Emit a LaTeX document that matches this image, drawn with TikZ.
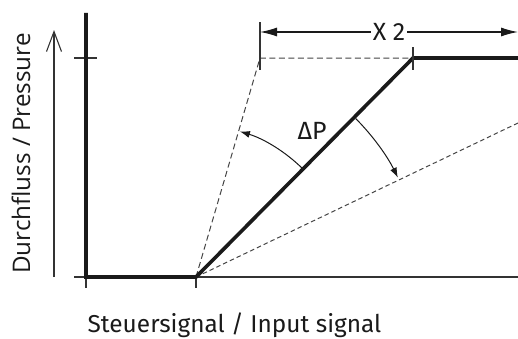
\documentclass[tikz,border=0pt]{standalone}
\usepackage{fontspec}
\setmainfont{Fira Sans}
\newfontfamily\vfont{Open Sans}
\usetikzlibrary{arrows.meta,calc}
\definecolor{ink}{HTML}{1A1A1A}
\definecolor{axisc}{HTML}{333333}
\definecolor{dashc}{HTML}{444444}
\tikzset{
  thickline/.style={ink,line width=3.6bp,line join=miter},
  axisline/.style={axisc,line width=1.5bp},
  tickline/.style={axisc,line width=1.2bp},
  dashline/.style={dashc,line width=1bp,dash pattern=on 6bp off 3.5bp},
  anglearrow/.style={ink,line width=1bp,-{Latex[length=10bp,width=7bp]}},
  dimarrow/.style={ink,line width=1.2bp,{Latex[length=17bp,width=9bp]}-{Latex[length=17bp,width=9bp]}},
  lbl/.style={inner sep=0pt,text=ink},
}
\begin{document}
\begin{tikzpicture}[x=1bp,y=1bp]
\useasboundingbox (0,0) rectangle (518,338);
% coordinates
\coordinate (ytop) at (86,325);
\coordinate (O) at (86,61);
\coordinate (P) at (196,61);
\coordinate (K) at (413,280);
\coordinate (T) at (260,280);
\coordinate (R) at (518,280);
\coordinate (L) at (518,215);
\coordinate (xl) at (74,61);
\coordinate (xr) at (518,61);
% axes
\draw[axisline] (xl) -- (xr);
\draw[tickline] (86,61) -- (86,50);
\draw[tickline] (196,61) -- (196,50);
\draw[tickline] (74,280) -- (97,280);
% y arrow
\coordinate (ya0) at (54,61);
\coordinate (ya1) at (54,308);
\draw[axisc,line width=1.1bp,-{Straight Barb[length=20bp,width=15bp]}] (ya0) -- (ya1);
% dashed lines
\draw[dashline] (P) -- (T) -- (K);
\draw[dashline,dash pattern=on 4.5bp off 3bp] (P) -- (L);
% thick curve
\draw[thickline] (ytop) -- (O) -- (P) -- (K) -- (R);
% dimension
\draw[tickline] (260,316) -- (260,268);
\draw[tickline] (413,291) -- (413,268);
\coordinate (d0) at (260,306);
\coordinate (d1) at (518,306);
\draw[dimarrow] (d0) -- node[lbl,fill=white,inner xsep=2bp,font=\fontsize{25}{28}\selectfont] (x2) {X 2} (d1);
% angle arcs
\draw[anglearrow] ($(P)+(45.3:152)$) arc[start angle=45.3,end angle=73.2,radius=152];
\draw[anglearrow] ($(P)+(44.8:225)$) arc[start angle=44.8,end angle=26.2,radius=225];
\node[lbl,font=\fontsize{25}{28}\selectfont] (dp) at (312,207) {ΔP};
% labels
\node[lbl,anchor=base,font=\fontsize{24.5}{28}\selectfont] (xlab) at (234.5,6) {Steuersignal / Input signal};
\node[lbl,anchor=base,rotate=90,font=\vfont\fontsize{24.3}{28}\selectfont] (ylab) at (30,184.5) {Durchfluss / Pressure};
\end{tikzpicture}
\end{document}
